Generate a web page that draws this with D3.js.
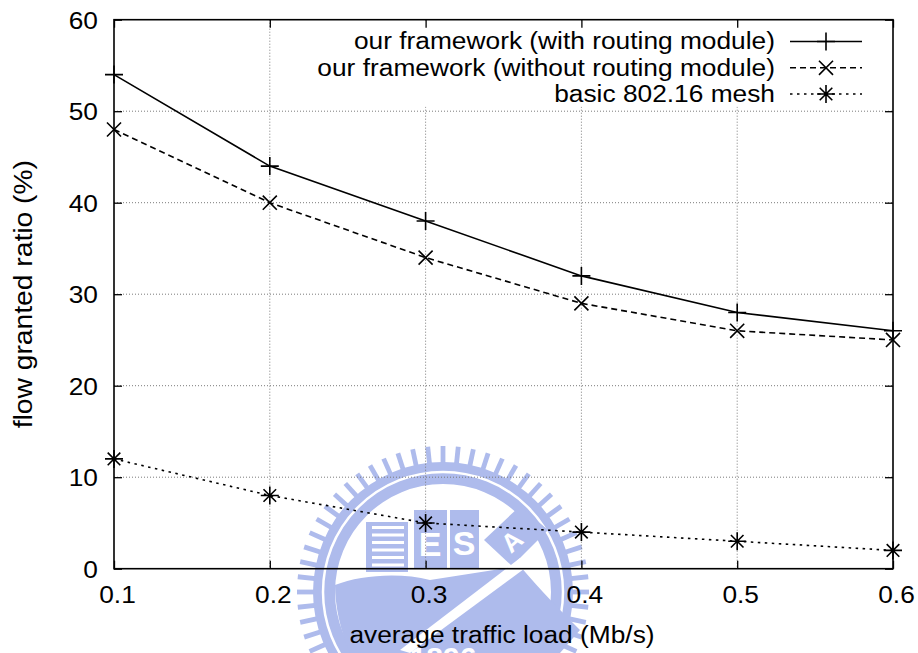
<!DOCTYPE html>
<html>
<head>
<meta charset="utf-8">
<script src="https://cdn.jsdelivr.net/npm/d3@7"></script>
<style>
  html, body { margin: 0; padding: 0; background: #fff; }
  svg { display: block; }
  text { font-family: "Liberation Sans", Arial, Helvetica, sans-serif; fill: #000; }
</style>
</head>
<body>
<svg id="chart" width="918" height="653"></svg>
<script>
// Traffic load on the x axis (Mb/s)
const loads = [0.1, 0.2, 0.3, 0.4, 0.5, 0.6];
// Flow granted ratio (%) for each scheme
const withRouting = [54, 44, 38, 32, 28, 26];
const withoutRouting = [48, 40, 34, 29, 26, 25];
const basicMesh = [12, 8, 5, 4, 3, 2];

const seriesNames = [
  "our framework (with routing module)",
  "our framework (without routing module)",
  "basic 802.16 mesh"
];
const xTickValues = [0.1, 0.2, 0.3, 0.4, 0.5, 0.6];
const yTickValues = [0, 10, 20, 30, 40, 50, 60];
const xTitle = "average traffic load (Mb/s)";
const yTitle = "flow granted ratio (%)";

const plot = { left: 114, right: 893, top: 19.7, bottom: 568.7 };
const FONT = 23.5, STRETCH = 1.12;

const svg = d3.select("#chart");

const x = d3.scaleLinear().domain([0.1, 0.6]).range([plot.left, plot.right]);
const y = d3.scaleLinear().domain([0, 60]).range([plot.bottom, plot.top]);

// ---- faint seal in the background ----
(function drawSeal() {
  const cx = 443, cy = 592;
  const blue = "#aebbec";
  const g = svg.append("g").attr("class", "seal");
  const teeth = d3.range(0, 360, 6);
  g.selectAll("rect.tooth").data(teeth).join("rect")
    .attr("class", "tooth")
    .attr("x", -2.4).attr("y", -146).attr("width", 4.8).attr("height", 20)
    .attr("fill", blue)
    .attr("transform", d => `translate(${cx},${cy}) rotate(${d})`);
  g.append("path")
    .attr("transform", `translate(${cx},${cy})`)
    .attr("d", d3.arc()({ innerRadius: 108, outerRadius: 130, startAngle: 0, endAngle: 2 * Math.PI }))
    .attr("fill", blue);
  g.append("circle").attr("cx", cx).attr("cy", cy).attr("r", 120)
    .attr("fill", "none").attr("stroke", "#fff").attr("stroke-width", 2.5);
  // building with stripes
  g.append("rect").attr("x", 366).attr("y", 522).attr("width", 42).attr("height", 50).attr("fill", blue);
  g.selectAll("rect.stripe").data(d3.range(6)).join("rect")
    .attr("class", "stripe")
    .attr("x", 372).attr("y", d => 526 + d * 7.5).attr("width", 32).attr("height", 3)
    .attr("fill", "#fff");
  // letter blocks
  g.append("rect").attr("x", 414).attr("y", 510).attr("width", 33).attr("height", 58).attr("fill", blue);
  g.append("rect").attr("x", 450).attr("y", 510).attr("width", 29).attr("height", 58).attr("fill", blue);
  g.append("path").attr("d", "M484,540 L520,506 L548,530 L512,566 Z").attr("fill", blue);
  [["E", 430, 556], ["S", 464, 555]].forEach(([t, tx, ty]) => {
    g.append("text").attr("x", tx).attr("y", ty).attr("text-anchor", "middle")
      .style("font-size", "34px").style("font-weight", "bold").style("fill", "#fff").text(t);
  });
  g.append("text").attr("transform", "translate(518,548) rotate(-42)").attr("text-anchor", "middle")
    .style("font-size", "26px").style("font-weight", "bold").style("fill", "#fff").text("A");
  // lower body and diagonal bar
  g.append("path")
    .attr("d", "M335,585 C360,575 400,572 430,580 L520,566 C540,590 560,610 580,630 L560,653 L350,653 C340,630 335,605 335,585 Z")
    .attr("fill", blue);
  g.append("path").attr("d", "M400,650 L520,558 L528,566 L410,653 Z").attr("fill", "#fff");
  g.append("text").attr("x", cx).attr("y", 668).attr("text-anchor", "middle")
    .style("font-size", "30px").style("font-weight", "bold").style("fill", "#fff").text("1896");
})();

// ---- grid ----
const grid = svg.append("g").attr("class", "grid")
  .attr("stroke", "#7a7a7a").attr("stroke-width", 1).attr("stroke-dasharray", "1,2");
grid.selectAll("line.vx").data(xTickValues.slice(1, -1)).join("line")
  .attr("class", "vx")
  .attr("x1", d => x(d)).attr("x2", d => x(d))
  .attr("y1", plot.top).attr("y2", plot.bottom);
grid.selectAll("line.hy").data(yTickValues.slice(1, -1)).join("line")
  .attr("class", "hy")
  .attr("x1", plot.left).attr("x2", plot.right)
  .attr("y1", d => y(d)).attr("y2", d => y(d));

// ---- key (opaque, hides grid beneath it) ----
const key = svg.append("g").attr("class", "key");
key.append("rect").attr("x", 348).attr("y", plot.top + 1).attr("width", plot.right - 349)
  .attr("height", 86).attr("fill", "#fff");

// ---- series ----
const styles = [
  { values: withRouting, dash: null, marker: "plus" },
  { values: withoutRouting, dash: "6,4", marker: "cross" },
  { values: basicMesh, dash: "2.5,4.5", marker: "star" }
];

function markerPath(type, s) {
  const plus = `M${-s},0H${s}M0,${-s}V${s}`;
  const d = s * 0.78;
  const cross = `M${-d},${-d}L${d},${d}M${-d},${d}L${d},${-d}`;
  if (type === "plus") return plus;
  if (type === "cross") return cross;
  const dd = s * 0.7;
  return plus + `M${-dd},${-dd}L${dd},${dd}M${-dd},${dd}L${dd},${-dd}`;
}

const line = d3.line().x((d, i) => x(loads[i])).y(d => y(d));
const seriesG = svg.append("g").attr("class", "series");
styles.forEach((st) => {
  seriesG.append("path")
    .datum(st.values)
    .attr("d", line)
    .attr("fill", "none")
    .attr("stroke", "#000")
    .attr("stroke-width", 1.6)
    .attr("stroke-dasharray", st.dash);
  seriesG.selectAll(null).data(st.values).join("path")
    .attr("transform", (d, i) => `translate(${x(loads[i])},${y(d)})`)
    .attr("d", markerPath(st.marker, 9))
    .attr("fill", "none")
    .attr("stroke", "#000")
    .attr("stroke-width", 1.6);
});

// key entries
const keyRows = [41.5, 67.8, 94];
styles.forEach((st, i) => {
  const ry = keyRows[i];
  key.append("text")
    .attr("transform", `translate(775,${ry + 7.8}) scale(${STRETCH},1)`)
    .attr("text-anchor", "end")
    .style("font-size", FONT + "px")
    .text(seriesNames[i]);
  key.append("line")
    .attr("x1", 790).attr("x2", 862).attr("y1", ry).attr("y2", ry)
    .attr("stroke", "#000").attr("stroke-width", 1.6)
    .attr("stroke-dasharray", st.dash);
  key.append("path")
    .attr("transform", `translate(826,${ry})`)
    .attr("d", markerPath(st.marker, 9))
    .attr("fill", "none").attr("stroke", "#000").attr("stroke-width", 1.6);
});

// ---- axes (inward ticks, mirrored on top and right) ----
function styleAxis(g) {
  g.select(".domain").remove();
  g.selectAll(".tick line").attr("stroke", "#000").attr("stroke-width", 1.3);
}

const yAxisG = svg.append("g")
  .attr("transform", `translate(${plot.left},0)`)
  .call(d3.axisLeft(y).tickValues(yTickValues).tickFormat(d3.format("d")).tickSize(-8).tickPadding(16));
styleAxis(yAxisG);
yAxisG.selectAll(".tick text")
  .attr("x", null).attr("dy", null)
  .attr("transform", `translate(-16,8.3) scale(${STRETCH},1)`)
  .attr("text-anchor", "end")
  .style("font-size", FONT + "px")
  .attr("font-family", null);

const xAxisG = svg.append("g")
  .attr("transform", `translate(0,${plot.bottom})`)
  .call(d3.axisBottom(x).tickValues(xTickValues).tickFormat(d3.format(".1f")).tickSize(-8).tickPadding(18));
styleAxis(xAxisG);
xAxisG.selectAll(".tick text")
  .attr("y", null).attr("dy", null)
  .attr("transform", `translate(3,34.6) scale(${STRETCH},1)`)
  .attr("text-anchor", "middle")
  .style("font-size", FONT + "px")
  .attr("font-family", null);

const topAxisG = svg.append("g")
  .attr("transform", `translate(0,${plot.top})`)
  .call(d3.axisTop(x).tickValues(xTickValues).tickFormat("").tickSize(-8));
styleAxis(topAxisG);

const rightAxisG = svg.append("g")
  .attr("transform", `translate(${plot.right},0)`)
  .call(d3.axisRight(y).tickValues(yTickValues).tickFormat("").tickSize(-8));
styleAxis(rightAxisG);

// frame
svg.append("rect")
  .attr("x", plot.left).attr("y", plot.top)
  .attr("width", plot.right - plot.left).attr("height", plot.bottom - plot.top)
  .attr("fill", "none").attr("stroke", "#000").attr("stroke-width", 1.6);

// ---- axis titles ----
svg.append("text")
  .attr("transform", `translate(${(plot.left + plot.right) / 2 - 1.5},643) scale(${STRETCH},1)`)
  .attr("text-anchor", "middle")
  .style("font-size", FONT + "px")
  .text(xTitle);

svg.append("text")
  .attr("transform", `translate(32,${(plot.top + plot.bottom) / 2}) rotate(-90) scale(1.13,1)`)
  .attr("text-anchor", "middle")
  .style("font-size", "25px")
  .text(yTitle);
</script>
</body>
</html>
